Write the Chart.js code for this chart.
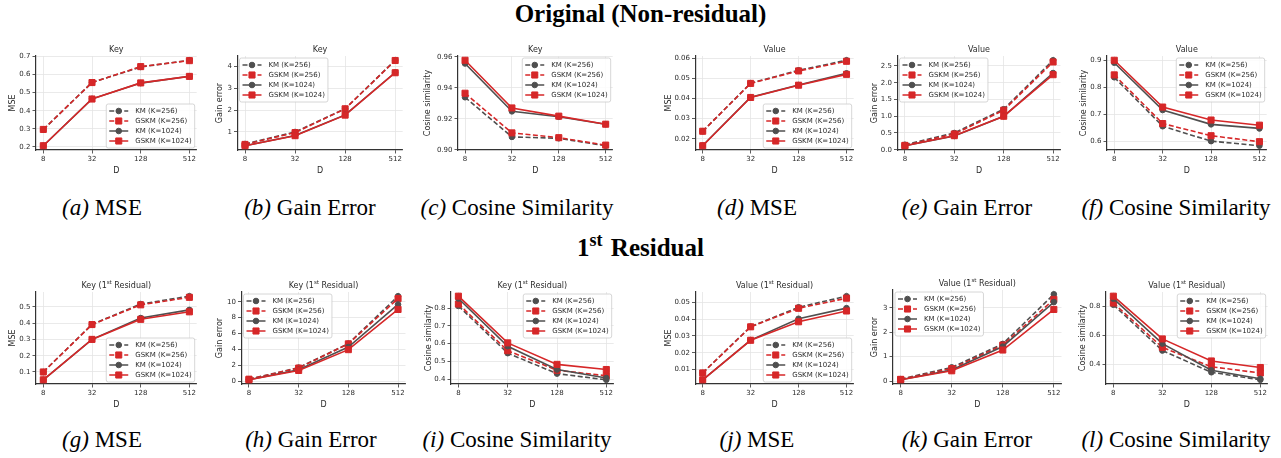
<!DOCTYPE html>
<html>
<head>
<meta charset="utf-8">
<script src="https://cdn.jsdelivr.net/npm/chart.js@4.4.1/dist/chart.umd.min.js"></script>
<style>
body { margin: 0; width: 1281px; height: 458px; background: #fff; position: relative; overflow: hidden; font-family: 'Liberation Serif', serif; color: #000; }
canvas { position: absolute; }
.head { position: absolute; left: 0; width: 1281px; text-align: center; font-weight: bold; font-size: 25px; line-height: 28px; }
.head sup { font-size: 18px; line-height: 0; vertical-align: 10px; margin-right: 2px; }
.cap { position: absolute; font-size: 23px; line-height: 26px; white-space: nowrap; transform: translateX(-50%); }
</style>
</head>
<body>
<div class="head" style="top:0px">Original (Non-residual)</div>
<div class="head" style="top:234px">1<sup>st</sup> Residual</div>

<div class="cap" style="left:102px;top:195px"><i>(a)</i> MSE</div>
<div class="cap" style="left:310px;top:195px"><i>(b)</i> Gain Error</div>
<div class="cap" style="left:517px;top:195px"><i>(c)</i> Cosine Similarity</div>
<div class="cap" style="left:757px;top:195px"><i>(d)</i> MSE</div>
<div class="cap" style="left:967px;top:195px"><i>(e)</i> Gain Error</div>
<div class="cap" style="left:1176px;top:195px"><i>(f)</i> Cosine Similarity</div>
<div class="cap" style="left:102px;top:427px"><i>(g)</i> MSE</div>
<div class="cap" style="left:311px;top:427px"><i>(h)</i> Gain Error</div>
<div class="cap" style="left:517px;top:427px"><i>(i)</i> Cosine Similarity</div>
<div class="cap" style="left:757px;top:427px"><i>(j)</i> MSE</div>
<div class="cap" style="left:967px;top:427px"><i>(k)</i> Gain Error</div>
<div class="cap" style="left:1176px;top:427px"><i>(l)</i> Cosine Similarity</div>

<script>
const dLabels = ['8', '32', '128', '512'];
const seriesNames = ['KM (K=256)', 'GSKM (K=256)', 'KM (K=1024)', 'GSKM (K=1024)'];

// each block: KM 256, GSKM 256, KM 1024, GSKM 1024
const keyMse = [
  [0.296, 0.557, 0.642, 0.679],
  [0.297, 0.556, 0.644, 0.677],
  [0.207, 0.466, 0.553, 0.591],
  [0.207, 0.465, 0.554, 0.590]
];
const keyGain = [
  [0.45, 1.00, 2.06, 4.28],
  [0.43, 0.97, 2.06, 4.27],
  [0.37, 0.84, 1.78, 3.72],
  [0.37, 0.83, 1.77, 3.71]
];
const keyCos = [
  [0.9339, 0.9083, 0.9074, 0.9026],
  [0.9365, 0.9109, 0.9078, 0.9030],
  [0.9557, 0.9248, 0.9213, 0.9165],
  [0.9578, 0.9270, 0.9217, 0.9165]
];
const valMse = [
  [0.0237, 0.0476, 0.0540, 0.0590],
  [0.0237, 0.0475, 0.0537, 0.0585],
  [0.0166, 0.0406, 0.0467, 0.0525],
  [0.0165, 0.0405, 0.0466, 0.0520]
];
const valGain = [
  [0.15, 0.50, 1.21, 2.67],
  [0.13, 0.47, 1.18, 2.62],
  [0.12, 0.41, 1.00, 2.29],
  [0.12, 0.42, 1.00, 2.24]
];
const valCos = [
  [0.837, 0.656, 0.601, 0.584],
  [0.846, 0.666, 0.621, 0.599],
  [0.891, 0.716, 0.663, 0.648],
  [0.900, 0.727, 0.679, 0.660]
];
const keyResMse = [
  [0.100, 0.392, 0.517, 0.565],
  [0.100, 0.391, 0.512, 0.558],
  [0.052, 0.300, 0.431, 0.481],
  [0.052, 0.300, 0.423, 0.469]
];
const keyResGain = [
  [0.25, 1.70, 4.73, 10.70],
  [0.25, 1.65, 4.70, 10.40],
  [0.17, 1.43, 4.30, 9.66],
  [0.17, 1.35, 3.97, 9.03]
];
const keyResCos = [
  [0.812, 0.546, 0.431, 0.396],
  [0.823, 0.560, 0.450, 0.419],
  [0.854, 0.585, 0.454, 0.406],
  [0.867, 0.604, 0.483, 0.454]
];
const valResMse = [
  [0.0080, 0.0355, 0.0470, 0.0536],
  [0.0080, 0.0354, 0.0464, 0.0524],
  [0.0039, 0.0275, 0.0402, 0.0465],
  [0.0039, 0.0274, 0.0384, 0.0448]
];
const valResGain = [
  [0.08, 0.56, 1.52, 3.55],
  [0.07, 0.51, 1.47, 3.34],
  [0.055, 0.45, 1.41, 3.23],
  [0.055, 0.42, 1.27, 2.93]
];
const valResCos = [
  [0.812, 0.496, 0.346, 0.294],
  [0.824, 0.518, 0.384, 0.341],
  [0.854, 0.544, 0.360, 0.301],
  [0.871, 0.576, 0.424, 0.379]
];

const keyMseTicks = ['0.2', '0.3', '0.4', '0.5', '0.6', '0.7'];
const keyGainTicks = ['1', '2', '3', '4'];
const keyCosTicks = ['0.90', '0.92', '0.94', '0.96'];
const valMseTicks = ['0.02', '0.03', '0.04', '0.05', '0.06'];
const valGainTicks = ['0.0', '0.5', '1.0', '1.5', '2.0', '2.5'];
const valCosTicks = ['0.6', '0.7', '0.8', '0.9'];
const keyResMseTicks = ['0.1', '0.2', '0.3', '0.4', '0.5'];
const keyResGainTicks = ['0', '2', '4', '6', '8', '10'];
const keyResCosTicks = ['0.4', '0.5', '0.6', '0.7', '0.8'];
const valResMseTicks = ['0.01', '0.02', '0.03', '0.04', '0.05'];
const valResGainTicks = ['0', '1', '2', '3'];
const valResCosTicks = ['0.4', '0.6', '0.8'];

// layout of the 12 panels (page pixels: plot area + y label centre)
const panels = [
  {data: keyMse, ticks: keyMseTicks, title: 'Key', ylabel: 'MSE', legend: 'lr', L: 36, R: 197, T: 56, B: 150, ylx: 12.7},
  {data: keyGain, ticks: keyGainTicks, title: 'Key', ylabel: 'Gain error', legend: 'ul', L: 237.5, R: 403, T: 56, B: 150, ylx: 220},
  {data: keyCos, ticks: keyCosTicks, title: 'Key', ylabel: 'Cosine similarity', legend: 'ur', L: 458, R: 613, T: 56, B: 150, ylx: 428},
  {data: valMse, ticks: valMseTicks, title: 'Value', ylabel: 'MSE', legend: 'lr', L: 695.5, R: 854, T: 56, B: 150, ylx: 668.3},
  {data: valGain, ticks: valGainTicks, title: 'Value', ylabel: 'Gain error', legend: 'ul', L: 897.5, R: 1060.5, T: 56, B: 150, ylx: 875},
  {data: valCos, ticks: valCosTicks, title: 'Value', ylabel: 'Cosine similarity', legend: 'ur', L: 1107, R: 1267, T: 56, B: 150, ylx: 1083.3},
  {data: keyResMse, ticks: keyResMseTicks, title: 'Key (1^st Residual)', ylabel: 'MSE', legend: 'lr', L: 36, R: 197, T: 292, B: 384, ylx: 12.7},
  {data: keyResGain, ticks: keyResGainTicks, title: 'Key (1^st Residual)', ylabel: 'Gain error', legend: 'ul', L: 241.5, R: 405.5, T: 292, B: 384, ylx: 220},
  {data: keyResCos, ticks: keyResCosTicks, title: 'Key (1^st Residual)', ylabel: 'Cosine similarity', legend: 'ur', L: 451, R: 614, T: 292, B: 384, ylx: 428.3},
  {data: valResMse, ticks: valResMseTicks, title: 'Value (1^st Residual)', ylabel: 'MSE', legend: 'lr', L: 695.5, R: 854, T: 292, B: 384, ylx: 668.3},
  {data: valResGain, ticks: valResGainTicks, title: 'Value (1^st Residual)', ylabel: 'Gain error', legend: 'ul', L: 893, R: 1061.5, T: 290, B: 384, ylx: 875},
  {data: valResCos, ticks: valResCosTicks, title: 'Value (1^st Residual)', ylabel: 'Cosine similarity', legend: 'ur', L: 1106, R: 1268, T: 292, B: 384, ylx: 1082.7}
];

const GREY = '#4f4f4f';
const RED = '#d62728';
const TEXT = '#2b2b2b';
const seriesStyle = [
  {color: GREY, dash: [5, 2.5], point: 'circle', r: 2.8},
  {color: RED, dash: [5, 2.5], point: 'rect', r: 4.3},
  {color: GREY, dash: [], point: 'circle', r: 2.8},
  {color: RED, dash: [], point: 'rect', r: 4.3}
];

Chart.defaults.font.family = "'DejaVu Sans'";
Chart.defaults.color = TEXT;

function drawMarker(ctx, style, r, x, y, color) {
  ctx.fillStyle = color;
  ctx.strokeStyle = color;
  ctx.lineWidth = 1;
  ctx.beginPath();
  if (style === 'rect') {
    const s = r * Math.SQRT1_2;
    ctx.rect(x - s, y - s, 2 * s, 2 * s);
  } else {
    ctx.arc(x, y, r, 0, Math.PI * 2);
  }
  ctx.fill();
  ctx.stroke();
}

// panel title (with superscript) and matplotlib-like legend box
const overlay = {
  id: 'overlay',
  afterDraw(chart, args, opts) {
    const {ctx, chartArea: a} = chart;
    ctx.save();
    const parts = opts.title.split('^');
    const segs = [];
    if (parts.length === 1) {
      segs.push({t: parts[0], s: 8, dy: 0});
    } else {
      segs.push({t: parts[0], s: 8, dy: 0});
      segs.push({t: parts[1].slice(0, 2), s: 5.5, dy: -3});
      segs.push({t: parts[1].slice(2), s: 8, dy: 0});
    }
    let total = 0;
    segs.forEach(g => { ctx.font = g.s + "px 'DejaVu Sans'"; g.w = ctx.measureText(g.t).width; total += g.w; });
    let tx = (a.left + a.right) / 2 - total / 2;
    const ty = a.top - 6.5;
    ctx.fillStyle = TEXT;
    ctx.textBaseline = 'middle';
    ctx.textAlign = 'left';
    segs.forEach(g => { ctx.font = g.s + "px 'DejaVu Sans'"; ctx.fillText(g.t, tx, ty + g.dy); tx += g.w; });

    ctx.font = "7px 'DejaVu Sans'";
    const tw = Math.max(...seriesNames.map(n => ctx.measureText(n).width));
    const w = 29 + tw + 3;
    const h = 44;
    const x = opts.loc[1] === 'r' ? a.right - 2 - w : a.left + 2;
    const y = opts.loc[0] === 'l' ? a.bottom - 2 - h : a.top + 2;
    ctx.beginPath();
    ctx.roundRect(x, y, w, h, 2);
    ctx.fillStyle = 'rgba(255,255,255,0.85)';
    ctx.fill();
    ctx.strokeStyle = '#cccccc';
    ctx.lineWidth = 0.8;
    ctx.stroke();
    seriesNames.forEach((name, i) => {
      const st = seriesStyle[i];
      const cy = y + 7 + i * 10;
      ctx.beginPath();
      ctx.setLineDash(st.dash);
      ctx.moveTo(x + 3, cy);
      ctx.lineTo(x + 22, cy);
      ctx.strokeStyle = st.color;
      ctx.lineWidth = 1.5;
      ctx.stroke();
      ctx.setLineDash([]);
      drawMarker(ctx, st.point, st.r, x + 12.5, cy, st.color);
      ctx.fillStyle = TEXT;
      ctx.font = "7px 'DejaVu Sans'";
      ctx.fillText(name, x + 29, cy + 0.5);
    });
    ctx.restore();
  }
};

panels.forEach(p => {
  const padTop = 16;
  const xH = 26;
  const left = Math.round(p.ylx - 4.8);
  const top = p.T - padTop;
  const width = Math.ceil(p.R + 5 - left);
  const height = padTop + (p.B - p.T) + xH;
  const yW = p.L - left;
  const padRight = width - (p.R - left);

  const canvas = document.createElement('canvas');
  canvas.width = width;
  canvas.height = height;
  canvas.style.left = left + 'px';
  canvas.style.top = top + 'px';
  canvas.style.width = width + 'px';
  canvas.style.height = height + 'px';
  document.body.appendChild(canvas);

  const all = p.data.flat();
  const lo = Math.min(...all), hi = Math.max(...all);
  const margin = (hi - lo) * 0.05;
  const tickVals = p.ticks.map(Number);

  new Chart(canvas.getContext('2d'), {
    type: 'line',
    data: {
      datasets: p.data.map((vals, i) => ({
        label: seriesNames[i],
        data: vals.map((v, j) => ({x: j, y: v})),
        borderColor: seriesStyle[i].color,
        backgroundColor: seriesStyle[i].color,
        borderWidth: 1.6,
        borderDash: seriesStyle[i].dash,
        pointStyle: seriesStyle[i].point,
        pointRadius: seriesStyle[i].r,
        pointBorderWidth: 1,
        tension: 0,
        fill: false,
        clip: false,
        order: 3 - i
      }))
    },
    options: {
      responsive: false,
      animation: false,
      devicePixelRatio: 1,
      layout: {padding: {top: padTop, right: padRight, left: 0, bottom: 0}},
      plugins: {
        legend: {display: false},
        tooltip: {enabled: false},
        overlay: {title: p.title, loc: p.legend}
      },
      scales: {
        x: {
          type: 'linear',
          min: -0.15,
          max: 3.15,
          afterBuildTicks: s => { s.ticks = dLabels.map((_, i) => ({value: i})); },
          afterFit: s => { s.height = xH; },
          ticks: {callback: v => dLabels[Math.round(v)], font: {size: 7}, color: TEXT, padding: 1.5, autoSkip: false, maxRotation: 0},
          grid: {color: '#e4e4e4', lineWidth: 0.8, tickLength: 3.5, tickColor: '#333', tickWidth: 0.8},
          border: {display: true, color: '#333', width: 1.2},
          title: {display: true, text: 'D', font: {size: 8}, color: TEXT, padding: 0}
        },
        y: {
          type: 'linear',
          min: lo - margin,
          max: hi + margin,
          afterBuildTicks: s => { s.ticks = tickVals.map(v => ({value: v})); },
          afterFit: s => { s.width = yW; },
          ticks: {callback: (v, i) => p.ticks[i], font: {size: 7}, color: TEXT, padding: 2, autoSkip: false},
          grid: {color: '#e4e4e4', lineWidth: 0.8, tickLength: 3.5, tickColor: '#333', tickWidth: 0.8},
          border: {display: true, color: '#333', width: 1.2},
          title: {display: true, text: p.ylabel, font: {size: 8}, color: TEXT, padding: 0}
        }
      }
    },
    plugins: [overlay]
  });
});
</script>
</body>
</html>
